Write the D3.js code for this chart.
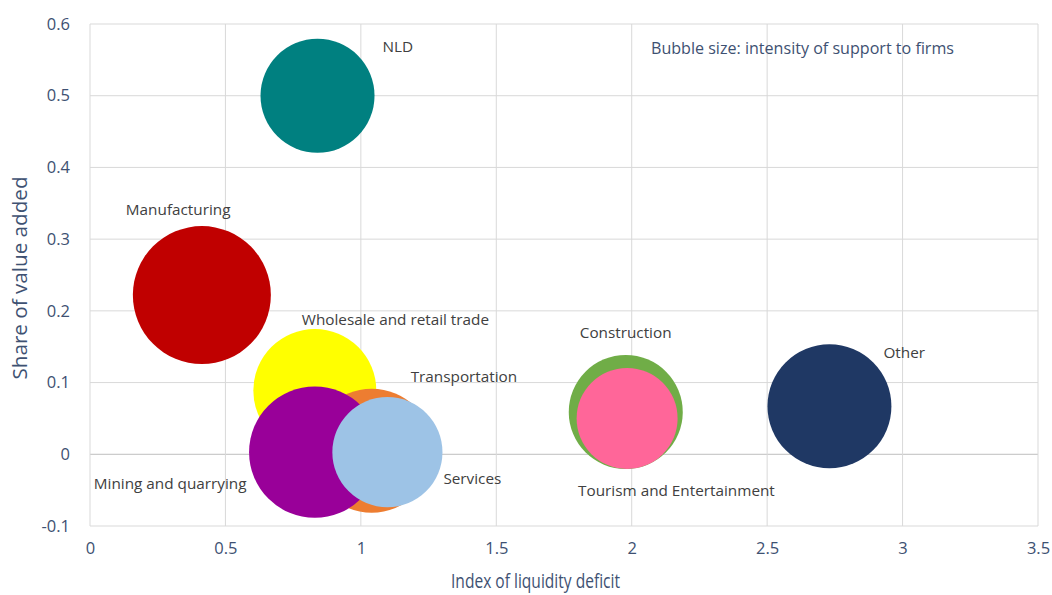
<!DOCTYPE html>
<html>
<head>
<meta charset="utf-8">
<script src="https://cdn.jsdelivr.net/npm/d3@7"></script>
<style>
  html, body { margin: 0; padding: 0; background: #fff; }
  svg { display: block; font-family: "Open Sans", "Noto Sans", sans-serif; }
</style>
</head>
<body>
<svg id="chart" width="1052" height="595"></svg>
<script>
// ---- data ----
const categories = ["Manufacturing", "Wholesale and retail trade", "Transportation", "Mining and quarrying", "Services", "Construction", "Tourism and Entertainment", "Other", "NLD"];
const liquidityDeficit = [0.413, 0.830, 1.040, 0.830, 1.098, 1.978, 1.983, 2.730, 0.840];
const valueAddedShare = [0.222, 0.089, 0.005, 0.003, 0.003, 0.059, 0.050, 0.067, 0.500];
const supportIntensity = [4.76, 3.78, 3.84, 4.32, 3.03, 3.25, 2.55, 3.84, 3.25];
const bubbleColors = ["#C00000", "#FFFF00", "#ED7D31", "#990099", "#9DC3E6", "#70AD47", "#FF6699", "#1F3864", "#008080"];
const xTicks = [0, 0.5, 1, 1.5, 2, 2.5, 3, 3.5];
const yTicks = [-0.1, 0, 0.1, 0.2, 0.3, 0.4, 0.5, 0.6];
// label placement (pixel offsets from bubble centre)
const labelDx = [-76, -13, 39, -221, 56, -46, -49, 54, 65];
const labelDy = [-85, -71, -74, 32, 27, -79, 72, -54, -49];

const svg = d3.select("#chart");
const m = {left: 90, right: 1038, top: 24, bottom: 526};

const x = d3.scaleLinear().domain([0, 3.5]).range([m.left, m.right]);
const y = d3.scaleLinear().domain([-0.1, 0.6]).range([m.bottom, m.top]);
const r = d3.scaleSqrt().domain([0, d3.max(supportIntensity)]).range([0, 69]);

const axisColor = "#3E5172";
const numFmt = d => { const s = String(+(+d).toFixed(1)); return s.replace("\u2212", "-"); };

// gridlines
svg.append("g").selectAll("line.h").data(yTicks).join("line")
  .attr("x1", m.left).attr("x2", m.right)
  .attr("y1", d => y(d)).attr("y2", d => y(d))
  .attr("stroke", d => d === 0 ? "#BFBFBF" : "#D9D9D9").attr("stroke-width", 1);
svg.append("g").selectAll("line.v").data(xTicks).join("line")
  .attr("y1", m.top).attr("y2", m.bottom)
  .attr("x1", d => x(d)).attr("x2", d => x(d))
  .attr("stroke", "#D9D9D9").attr("stroke-width", 1);

// axes (tick labels)
const xAxis = svg.append("g").attr("transform", `translate(0,${m.bottom})`)
  .call(d3.axisBottom(x).tickValues(xTicks).tickFormat(numFmt).tickSize(0).tickPadding(16));
const yAxis = svg.append("g").attr("transform", `translate(${m.left},0)`)
  .call(d3.axisLeft(y).tickValues(yTicks).tickFormat(numFmt).tickSize(0).tickPadding(20));
[xAxis, yAxis].forEach(a => {
  a.select(".domain").remove();
  a.selectAll("text").attr("fill", axisColor).style("font-size", "16.5px").style("font-family", "'Open Sans', sans-serif");
});

// bubbles
const idx = d3.range(categories.length);
svg.append("g").selectAll("circle").data(idx).join("circle")
  .attr("cx", i => x(liquidityDeficit[i]))
  .attr("cy", i => y(valueAddedShare[i]))
  .attr("r", i => r(supportIntensity[i]))
  .attr("fill", i => bubbleColors[i]);

// labels
svg.append("g").selectAll("text").data(idx).join("text")
  .attr("x", i => x(liquidityDeficit[i]) + labelDx[i])
  .attr("y", i => y(valueAddedShare[i]) + labelDy[i])
  .attr("dy", "0.35em")
  .attr("fill", "#404040")
  .style("font-size", "15.3px")
  .text(i => categories[i]);

// annotation
svg.append("text").attr("x", 651).attr("y", 49).attr("dy", "0.35em")
  .attr("fill", axisColor).style("font-size", "15.5px")
  .attr("textLength", 303).attr("lengthAdjust", "spacingAndGlyphs")
  .text("Bubble size: intensity of support to firms");

// axis titles
svg.append("text").attr("x", 535.5).attr("y", 581).attr("dy", "0.35em")
  .attr("text-anchor", "middle").attr("fill", axisColor).style("font-size", "20.5px")
  .attr("textLength", 169).attr("lengthAdjust", "spacingAndGlyphs")
  .text("Index of liquidity deficit");
svg.append("text").attr("transform", `translate(20,278) rotate(-90)`)
  .attr("dy", "0.35em").attr("text-anchor", "middle").attr("fill", axisColor).style("font-size", "20.5px")
  .attr("textLength", 203).attr("lengthAdjust", "spacingAndGlyphs")
  .text("Share of value added");
</script>
</body>
</html>
